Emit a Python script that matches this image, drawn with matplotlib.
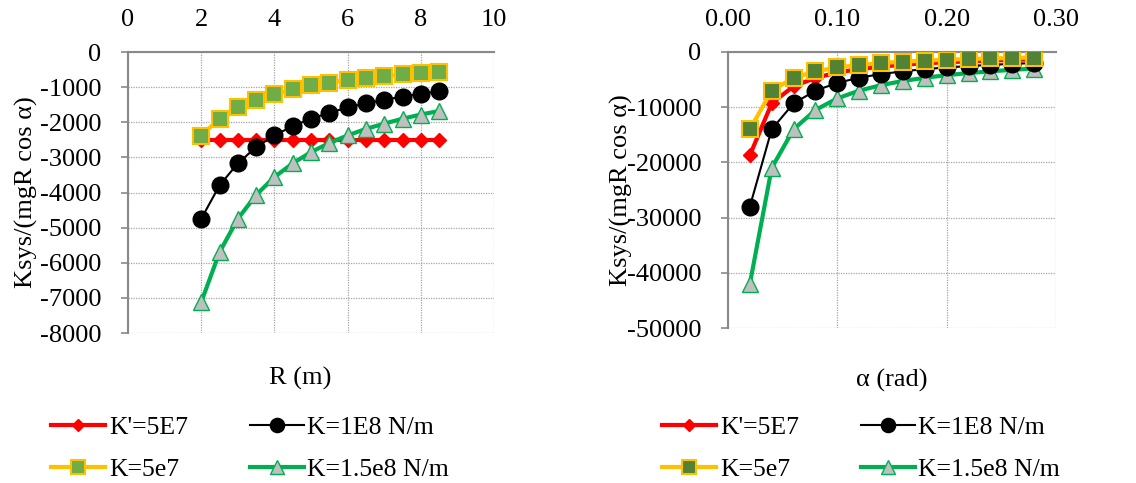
import matplotlib
matplotlib.use("Agg")
import matplotlib.pyplot as plt

plt.rcParams['font.family'] = ['Liberation Serif', 'DejaVu Serif']
plt.rcParams['font.size'] = 18
plt.rcParams['axes.unicode_minus'] = False

# left panel: vs R
R = [2, 2.5, 3, 3.5, 4, 4.5, 5, 5.5, 6, 6.5, 7, 7.5, 8, 8.5]
kp_R = [-2500] * 14
k5_R = [-2380, -1900, -1580, -1360, -1190, -1060, -950, -870, -790, -730, -680, -630, -590, -560]
k1_R = [-4750, -3800, -3170, -2710, -2375, -2110, -1900, -1730, -1580, -1460, -1360, -1270, -1190, -1120]
k15_R = [-7125, -5700, -4750, -4070, -3560, -3170, -2850, -2590, -2375, -2190, -2040, -1900, -1780, -1680]

# right panel: vs alpha
alpha = [0.02, 0.04, 0.06, 0.08, 0.10, 0.12, 0.14, 0.16, 0.18, 0.20, 0.22, 0.24, 0.26, 0.28]
kp_a = [-18700, -9300, -6200, -4700, -3700, -3100, -2650, -2300, -2050, -1850, -1700, -1550, -1430, -1330]
k5_a = [-14000, -7000, -4700, -3500, -2800, -2350, -2000, -1750, -1560, -1400, -1270, -1170, -1080, -1000]
k1_a = [-28000, -14000, -9300, -7000, -5600, -4650, -4000, -3500, -3100, -2800, -2550, -2330, -2150, -2000]
k15_a = [-42000, -21000, -14000, -10500, -8400, -7000, -6000, -5250, -4670, -4200, -3820, -3500, -3230, -3000]

labels = ["K'=5E7", "K=1E8 N/m", "K=5e7", "K=1.5e8 N/m"]
ylab = "Ksys/(mgR cos α)"

fig = plt.figure(figsize=(11.36, 4.83), dpi=100)
W, H = 1136, 483


def panel(ax, x, kp, k1, k5, k15, sq_face):
    l1, = ax.plot(x, kp, color='#FF0000', lw=3, marker='D', ms=7, mfc='#FF0000', mec='#FF0000', zorder=3)
    l2, = ax.plot(x, k1, color='black', lw=1.5, marker='o', ms=12, mfc='black', mec='black', zorder=4)
    l3, = ax.plot(x, k5, color='#FFC000', lw=3, marker='s', ms=11.5, mfc=sq_face, mec='#FFC000', mew=1.5, zorder=5)
    l4, = ax.plot(x, k15, color='#00B050', lw=3, marker='^', ms=12, mfc='#BFBFBF', mec='#00B050', mew=1.0, zorder=3)
    ax.grid(True, color='#A6A6A6', ls=(0, (1, 1)), lw=0.9)
    ax.set_axisbelow(True)
    ax.xaxis.tick_top()
    ax.spines['right'].set_visible(False)
    ax.spines['bottom'].set_visible(False)
    ax.spines['left'].set_color('#898989')
    ax.spines['top'].set_color('#898989')
    ax.spines['left'].set_linewidth(1.5)
    ax.spines['top'].set_linewidth(1.5)
    ax.tick_params(axis='y', color='#898989', length=5, width=1.2, labelsize=19, pad=14)
    ax.tick_params(axis='x', top=False, length=0, labelsize=19, pad=15)
    return [l1, l3, l2, l4]


def legend(x0):
    fig.legend(h, [labels[0], labels[2], labels[1], labels[3]], ncol=2, frameon=False,
               loc='upper left', bbox_to_anchor=(x0 / W, 1 - 393 / H), handlelength=2.1,
               handletextpad=0.15, columnspacing=2.4, labelspacing=0.75, fontsize=18.5,
               markerscale=0.85)


ax1 = fig.add_axes([128 / W, (H - 333) / H, (494 - 128) / W, (333 - 52) / H])
h = panel(ax1, R, kp_R, k1_R, k5_R, k15_R, '#70AD47')
ax1.set_xlim(0, 10)
ax1.set_ylim(-8000, 0)
ax1.set_xticks([0, 2, 4, 6, 8, 10])
ax1.set_yticks(range(-8000, 1, 1000))
ax1.set_ylabel(ylab, fontsize=19)
ax1.yaxis.set_label_coords((38 - 128) / 366, 0.5)
fig.text(300 / W, 1 - 378 / H, "R (m)", ha='center', va='center', fontsize=19)
legend(28)

ax2 = fig.add_axes([728 / W, (H - 328) / H, (1056 - 728) / W, (328 - 52) / H])
h = panel(ax2, alpha, kp_a, k1_a, k5_a, k15_a, '#548235')
ax2.set_xlim(0, 0.30)
ax2.set_ylim(-50000, 0)
ax2.set_xticks([0, 0.10, 0.20, 0.30])
ax2.set_xticklabels(['0.00', '0.10', '0.20', '0.30'])
ax2.set_yticks(range(-50000, 1, 10000))
ax2.set_ylabel(ylab, fontsize=19)
ax2.yaxis.set_label_coords((633 - 728) / 328, 0.5)
fig.text(892 / W, 1 - 380 / H, "α (rad)", ha='center', va='center', fontsize=19)
legend(639)

fig.savefig('out.png', dpi=100)
